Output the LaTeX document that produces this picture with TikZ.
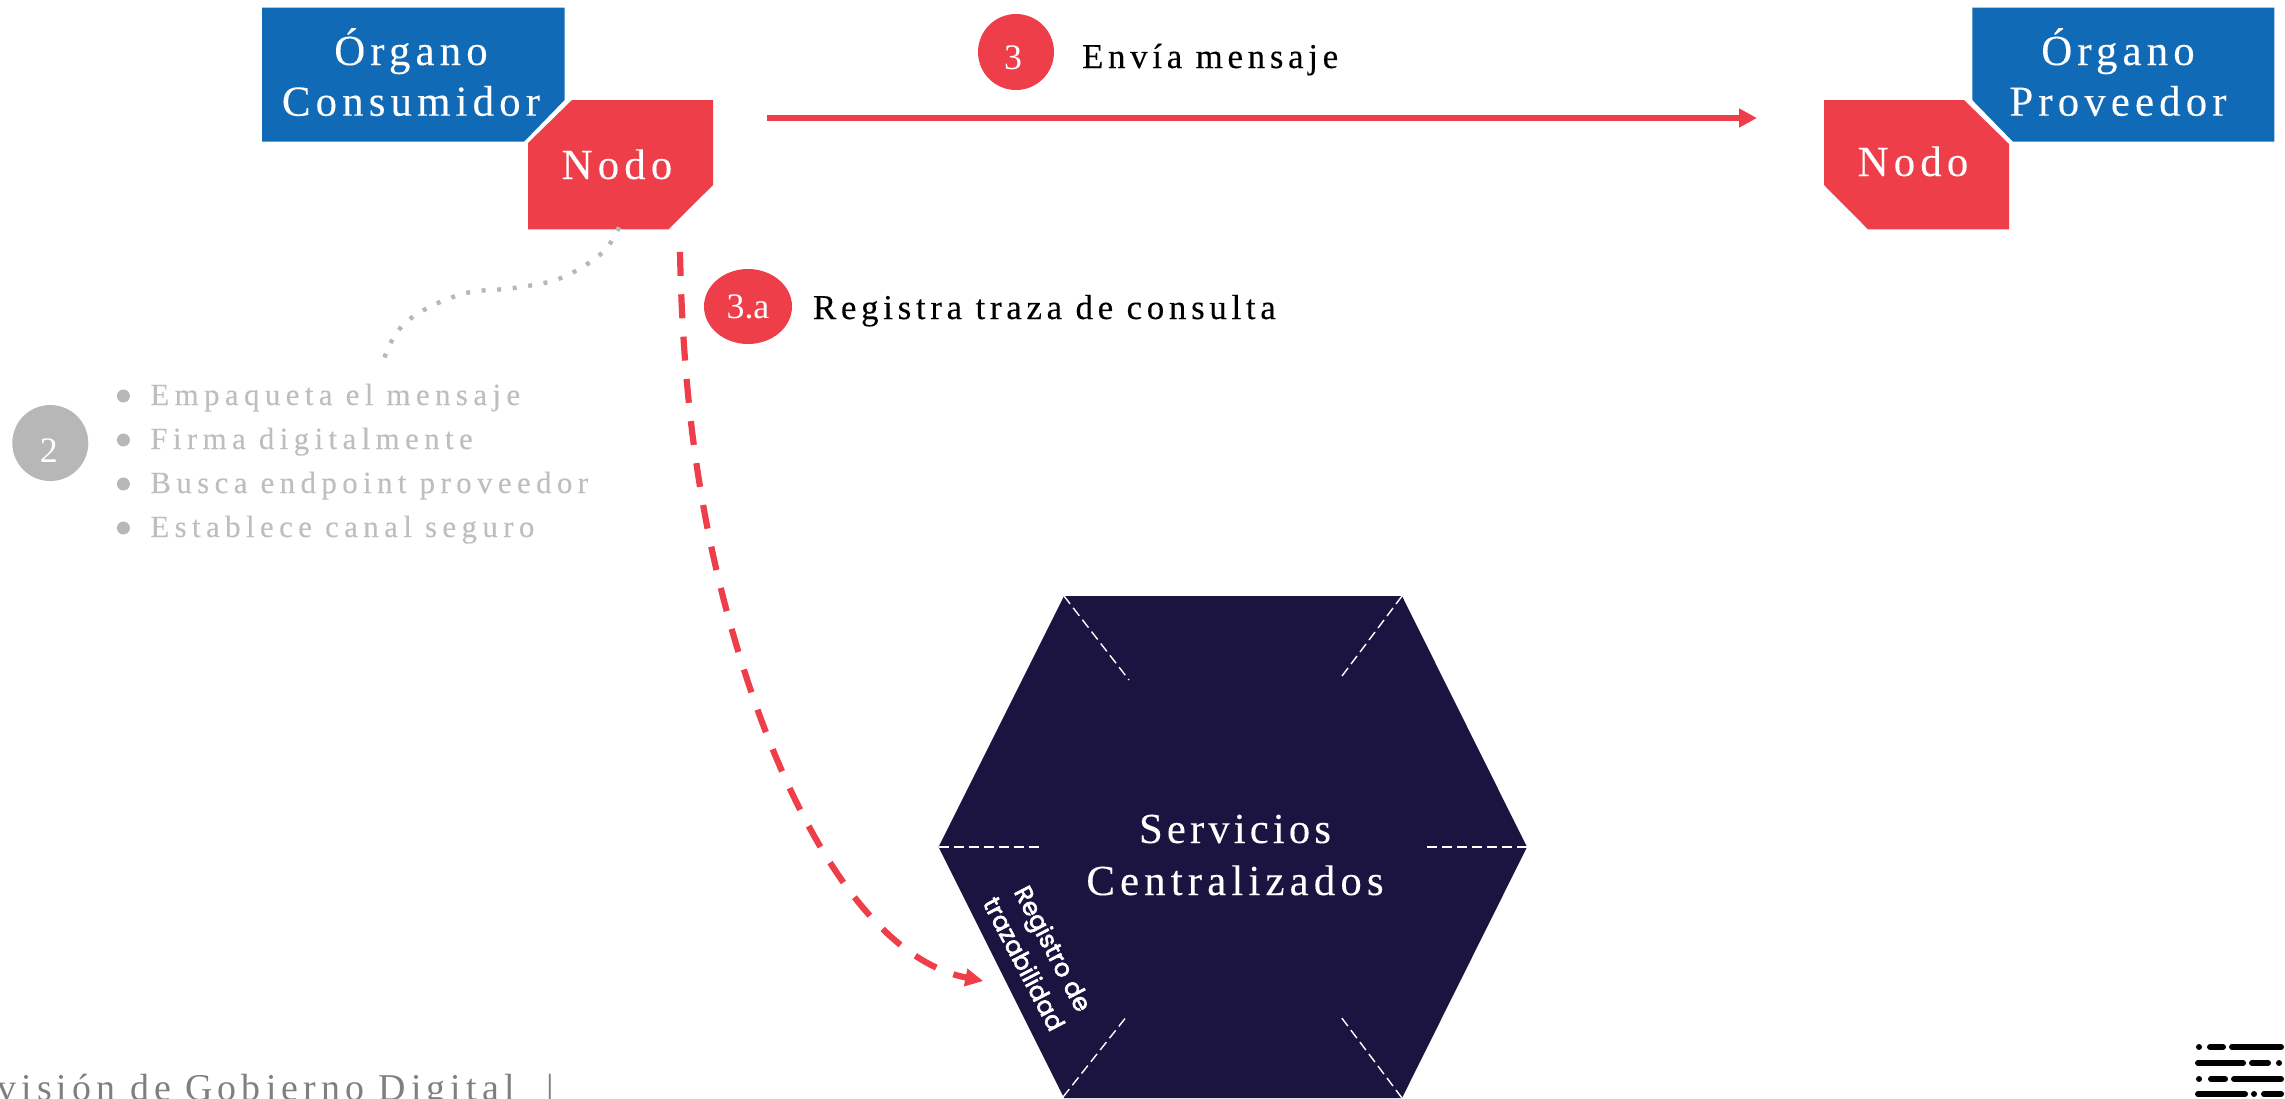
\documentclass[tikz,border=0pt]{standalone}
\usepackage{fontspec}
\setmainfont{Liberation Serif}
\newfontfamily\lsfont[LetterSpace=12,FakeBold=0.15]{Liberation Serif}
\newfontfamily\lsfonttight[LetterSpace=9.5,FakeBold=0.15]{Liberation Serif}
\newfontfamily\lsfontcap[LetterSpace=13.5,FakeBold=0.25]{Liberation Serif}
\newfontfamily\lsfontwide[LetterSpace=17.5,FakeBold=0.2]{Liberation Serif}
\newfontfamily\lsfontfoot[LetterSpace=13.5]{Liberation Serif}
\newfontfamily\popfont[FakeBold=2.5]{Poppins}
\usetikzlibrary{arrows.meta,calc,shapes.geometric}
\definecolor{azul}{HTML}{116AB6}
\definecolor{rojo}{HTML}{EE3E4A}
\definecolor{marino}{HTML}{1B1340}
\definecolor{gris}{HTML}{B7B7B7}
\definecolor{gristxt}{HTML}{BEBEBE}
\definecolor{grispie}{HTML}{7F7F7F}
\tikzset{
  x=0.5bp,y=-0.5bp,
  organo/.style={fill=azul,draw=none},
  nodopoly/.style={fill=rojo,draw=none},
  area/.style={inner sep=0pt,outer sep=0pt,draw=none},
  boxtxt/.style={inner sep=0pt,anchor=base,text=white,font=\fontsize{21.5}{24}\lsfont},
  numcirc/.style={fill=rojo,draw=none,inner sep=0pt,outer sep=0pt,text=white,font=\fontsize{18}{20}\selectfont},
  captxt/.style={inner sep=0pt,anchor=base west,text=black,font=\fontsize{17.5}{20}\lsfontcap},
  listtxt/.style={inner sep=0pt,anchor=base west,text=gristxt,font=\fontsize{15.5}{18}\lsfontwide},
  bulletdot/.style={circle,fill=gris,draw=none,minimum size=6.5bp,inner sep=0pt},
  hexdash/.style={draw=white,line width=0.7bp,dash pattern=on 5bp off 2.5bp},
  logobar/.style={draw=black,line width=3bp,line cap=round}
}
\begin{document}
\begin{tikzpicture}
\useasboundingbox (0,0) rectangle (2285,1098);
\clip (0,0) rectangle (2285,1098);
% consumer
\fill[organo] (262,7.5) -- (564.5,7.5) -- (564.5,100) -- (524,141.7) -- (262,141.7) -- cycle;
\node[boxtxt] (orgC) at (411,65) {Órgano};
\node[boxtxt] (consC) at (411,115.7) {Consumidor};
\fill[nodopoly] (572,100) -- (713,100) -- (713,185) -- (668.6,229.3) -- (528,229.3) -- (528,143) -- cycle;
\node[area,minimum width=92.5bp,minimum height=64.6bp] (nodoC) at (620.5,164.6) {};
\node[boxtxt] (nodoCt) at (617,179) {Nodo};
% provider
\fill[organo] (1972.3,7.5) -- (2274.3,7.5) -- (2274.3,141.7) -- (2013,141.7) -- (1972.3,100) -- cycle;
\node[boxtxt] (orgP) at (2118,65) {Órgano};
\node[boxtxt] (provP) at (2118,115.7) {Proveedor};
\fill[nodopoly] (1824,100) -- (1964,100) -- (2009,144) -- (2009,229.3) -- (1868,229.3) -- (1824,185) -- cycle;
\node[area,minimum width=92.5bp,minimum height=64.6bp] (nodoP) at (1916.5,164.6) {};
\node[boxtxt] (nodoPt) at (1913,176) {Nodo};
% arrow 3
\draw[rojo,line width=3.3bp,-{Triangle[length=9bp,width=9bp]}] ([shift={(54,-46.6)}]nodoC.east) -- ([shift={(-67,-46.6)}]nodoP.west);
\node[numcirc,circle,minimum size=38bp] (n3) at (1016,52) {\hspace*{-3pt}\raisebox{-8.5bp}[0pt][0pt]{3}};
\node[captxt] (t3) at (1081.7,68) {Envía mensaje};
% hexagon
\fill[marino] (1064,596) -- (1402,596) -- (1527,847) -- (1402,1098) -- (1064,1098) -- (938.5,847) -- cycle;
\node[area,minimum width=294bp,minimum height=251bp] (hex) at (1232.75,847) {};
\draw[hexdash] (1064,596) -- (1129,680);
\draw[hexdash] (1402,596) -- (1339,680);
\draw[hexdash] (938.5,847) -- (1043,847);
\draw[hexdash] (1527,847) -- (1424,847);
\draw[hexdash] (1063,1097) -- (1127,1016);
\draw[hexdash] (1402,1098) -- (1341,1017);
\node[boxtxt,font=\fontsize{21.5}{24}\lsfonttight] (serv) at (1235,843) {Servicios};
\node[boxtxt] (cent) at (1235,895) {Centralizados};
\node[inner sep=0pt,rotate=-62.4,text=white,align=center,font=\fontsize{12.3}{16.5}\popfont] (reg) at (1039,956) {Registro de\\trazabilidad};
% dashed arrow
\coordinate (logS) at ([shift={(59.5,22.7)}]nodoC.south);
\coordinate (logM) at (746,676);
\coordinate (logT) at ($(hex.west)+(44.5,134)$);
\draw[rojo,line width=3.1bp,dash pattern=on 12bp off 9.2bp,-{Triangle[length=9bp,width=8.5bp]}]
  (logS) .. controls (683,400) and (700,535) .. (logM) .. controls +(50,154) and +(-110,-22) .. (logT);
\node[numcirc,ellipse,minimum width=44bp,minimum height=37.5bp] (n3a) at (748,306.5) {3.a};
\node[captxt] (t3a) at (812.6,319) {Registra traza de consulta};
% list
\coordinate (dotS) at ([shift={(-1.5,-2)}]nodoC.south);
\coordinate (dotEnd) at (383.5,360);
\draw[gris,line width=2.2bp,dash pattern=on 2bp off 5.8bp,line cap=butt]
  plot[smooth,tension=0.6] coordinates {(dotS) (602,253) (561,278) (514,288) (466,293) (422,311) (397,332) (dotEnd)};
\node[fill=gris,circle,minimum size=38bp,inner sep=0pt,text=white,font=\fontsize{18}{20}\selectfont] (n2) at (50.3,443) {\hspace*{-1.5pt}\raisebox{-9.5bp}[0pt][0pt]{2}};
\node[bulletdot] (b1) at (123.4,396) {};
\node[bulletdot] (b2) at (123.4,440) {};
\node[bulletdot] (b3) at (123.4,484) {};
\node[bulletdot] (b4) at (123.4,528) {};
\node[listtxt] (l1) at (150,405) {Empaqueta el mensaje};
\node[listtxt] (l2) at (150,449) {Firma digitalmente};
\node[listtxt] (l3) at (150,493) {Busca endpoint proveedor};
\node[listtxt] (l4) at (150,537) {Establece canal seguro};
% footer
\node[inner sep=0pt,anchor=base west,text=grispie,font=\fontsize{19}{22}\lsfontfoot] (foot) at (-3,1100) {visión de Gobierno Digital\hspace{16pt}|};
% logo
\draw[logobar] (2199,1047) -- +(0.01,0) (2210,1047) -- (2223,1047) (2232,1047) -- (2281,1047);
\draw[logobar] (2198,1063) -- (2243,1063) (2252,1063) -- (2268,1063) (2279,1063) -- +(0.01,0);
\draw[logobar] (2199,1079) -- +(0.01,0) (2211,1079) -- (2225,1079) (2234,1079) -- (2281,1079);
\draw[logobar] (2198,1094) -- (2245,1094) (2254,1094) -- +(0.01,0) (2264,1094) -- (2281,1094);
\end{tikzpicture}
\end{document}
